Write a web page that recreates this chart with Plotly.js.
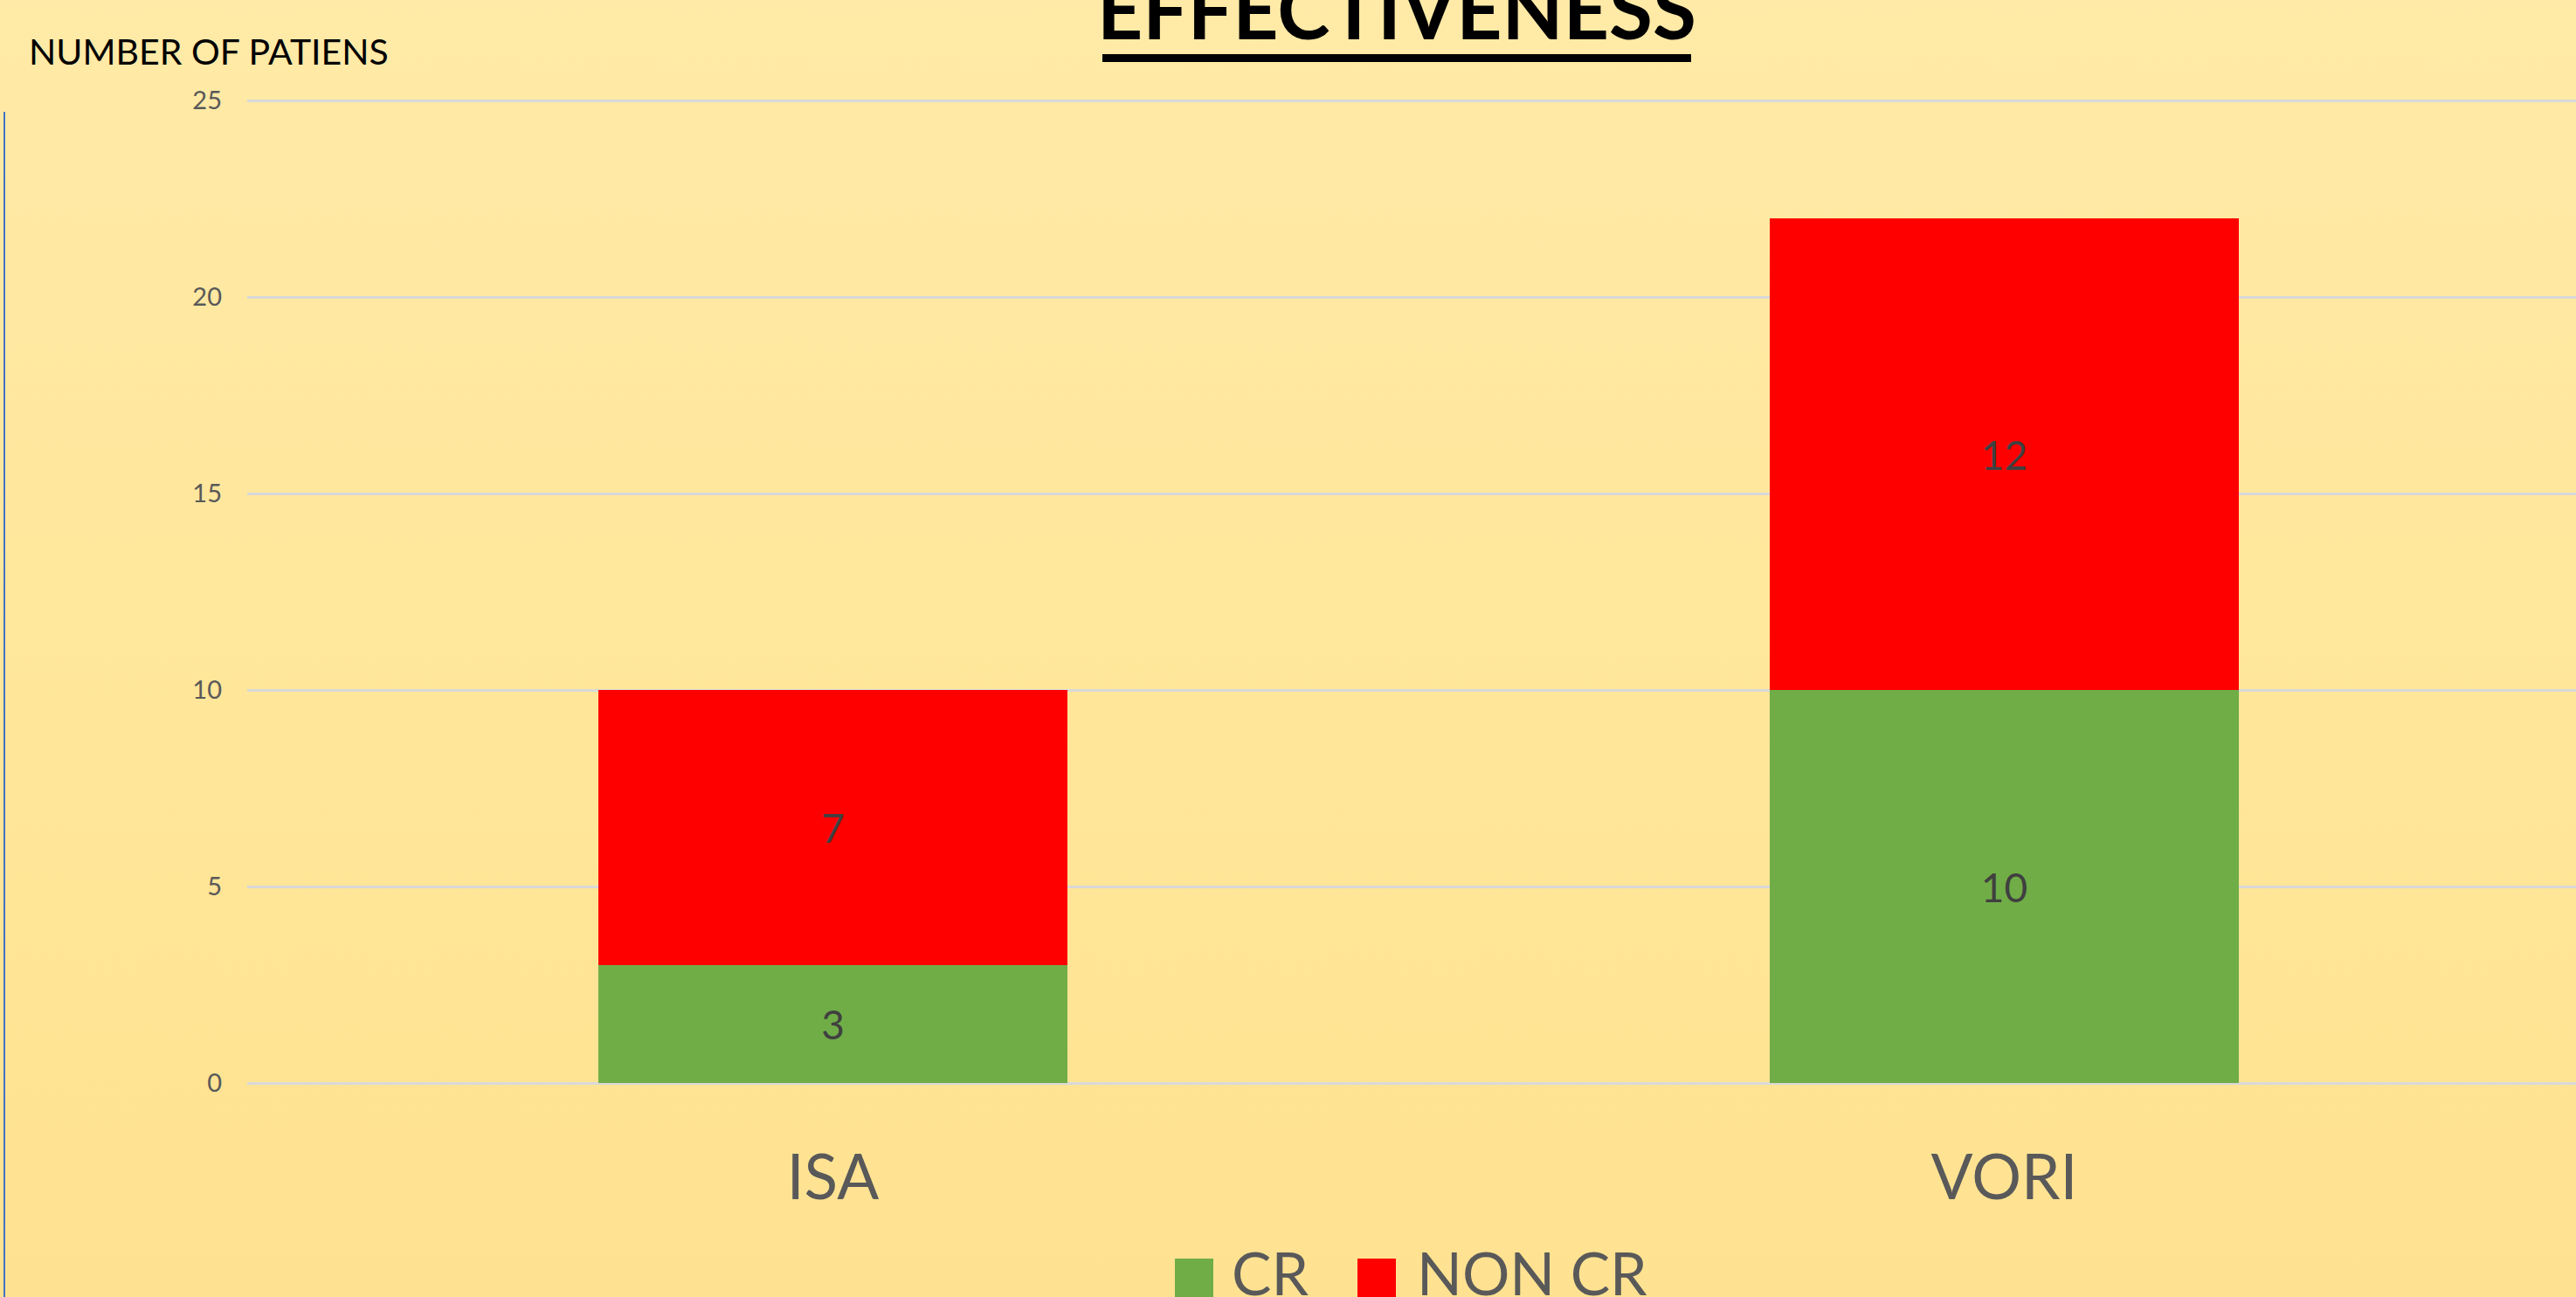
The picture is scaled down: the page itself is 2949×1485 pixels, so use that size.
<!DOCTYPE html>
<html>
<head>
<meta charset="utf-8">
<script src="https://cdn.plot.ly/plotly-3.0.1.min.js"></script>
<style>
  html, body { margin: 0; padding: 0; width: 2949px; height: 1485px; overflow: hidden;
    background: linear-gradient(to bottom, #FFEAA7 0%, #FFE699 55%, #FFE291 100%); }
  #chart { width: 2949px; height: 1485px; }
</style>
</head>
<body>
<div id="chart"></div>
<script>
// ---- data ----
const categories = ["ISA", "VORI"];
const seriesNames = ["CR", "NON CR"];
const crValues = [3, 10];
const nonCrValues = [7, 12];
const yTickValues = [0, 5, 10, 15, 20, 25];
const chartTitle = "EFFECTIVENESS";
const yAxisLabel = "NUMBER OF PATIENS";

// ---- layout helpers (pixel -> paper) ----
const W = 2949, H = 1485;
const M = { l: 283, r: 0, t: 106, b: 236 };
const PW = W - M.l - M.r, PH = H - M.t - M.b;
const px = x => (x - M.l) / PW;
const py = y => (H - M.b - y) / PH;

const FONT = "Lato, 'Open Sans', sans-serif";
const colors = ["#70AD47", "#FF0000"];

const traces = [
  { type: "bar", name: seriesNames[0], x: categories, y: crValues,
    marker: { color: colors[0] }, text: crValues.map(String), textposition: "inside",
    insidetextanchor: "middle", textangle: 0,
    textfont: { family: FONT, size: 46, color: "#404040" }, hoverinfo: "skip", showlegend: false },
  { type: "bar", name: seriesNames[1], x: categories, y: nonCrValues,
    marker: { color: colors[1] }, text: nonCrValues.map(String), textposition: "inside",
    insidetextanchor: "middle", textangle: 0,
    textfont: { family: FONT, size: 46, color: "#404040" }, hoverinfo: "skip", showlegend: false }
];

const legendFont = { family: FONT, size: 68, color: "#595959" };

const layout = {
  width: W, height: H,
  margin: M,
  paper_bgcolor: "rgba(0,0,0,0)",
  plot_bgcolor: "rgba(0,0,0,0)",
  barmode: "stack",
  bargap: 0.6,
  showlegend: false,
  font: { family: FONT },
  xaxis: {
    range: [-0.5, -0.5 + PW / 1341],
    showgrid: false, zeroline: false, showline: false, ticks: "",
    tickfont: { family: FONT, size: 71, color: "#595959" },
    ticklabelstandoff: 52
  },
  yaxis: {
    range: [-0.2, 25.2], tickvals: yTickValues, ticktext: yTickValues.map(String),
    showgrid: true, gridcolor: "#D9D9D9", gridwidth: 3,
    zeroline: false, showline: false, ticks: "",
    tickfont: { family: FONT, size: 29, color: "#595959" },
    ticklabelstandoff: 28
  },
  annotations: [
    { text: "<b>" + chartTitle + "</b>", xref: "paper", yref: "paper",
      x: px(1599), y: py(66), xanchor: "center", yanchor: "bottom", showarrow: false,
      font: { family: FONT, size: 91, color: "#000000" } },
    { text: yAxisLabel, xref: "paper", yref: "paper",
      x: px(31), y: py(85), xanchor: "left", yanchor: "bottom", showarrow: false,
      font: { family: FONT, size: 41, color: "#000000" } },
    { text: seriesNames[0], xref: "paper", yref: "paper",
      x: px(1408), y: py(1499), xanchor: "left", yanchor: "bottom", showarrow: false,
      font: legendFont },
    { text: seriesNames[1], xref: "paper", yref: "paper",
      x: px(1620), y: py(1499), xanchor: "left", yanchor: "bottom", showarrow: false,
      font: legendFont }
  ],
  shapes: [
    // title underline
    { type: "rect", xref: "paper", yref: "paper", x0: px(1262), x1: px(1936), y0: py(71), y1: py(62),
      fillcolor: "#000000", line: { width: 0 } },
    // legend swatches
    { type: "rect", xref: "paper", yref: "paper", x0: px(1345), x1: px(1389), y0: py(1485), y1: py(1441),
      fillcolor: colors[0], line: { width: 0 } },
    { type: "rect", xref: "paper", yref: "paper", x0: px(1554), x1: px(1598), y0: py(1485), y1: py(1441),
      fillcolor: colors[1], line: { width: 0 } },
    // left blue edge line
    { type: "line", xref: "paper", yref: "paper", x0: px(5), x1: px(5), y0: py(1485), y1: py(128),
      line: { color: "#4472C4", width: 2 } }
  ]
};

Plotly.newPlot("chart", traces, layout, { staticPlot: true, displayModeBar: false });
</script>
</body>
</html>
